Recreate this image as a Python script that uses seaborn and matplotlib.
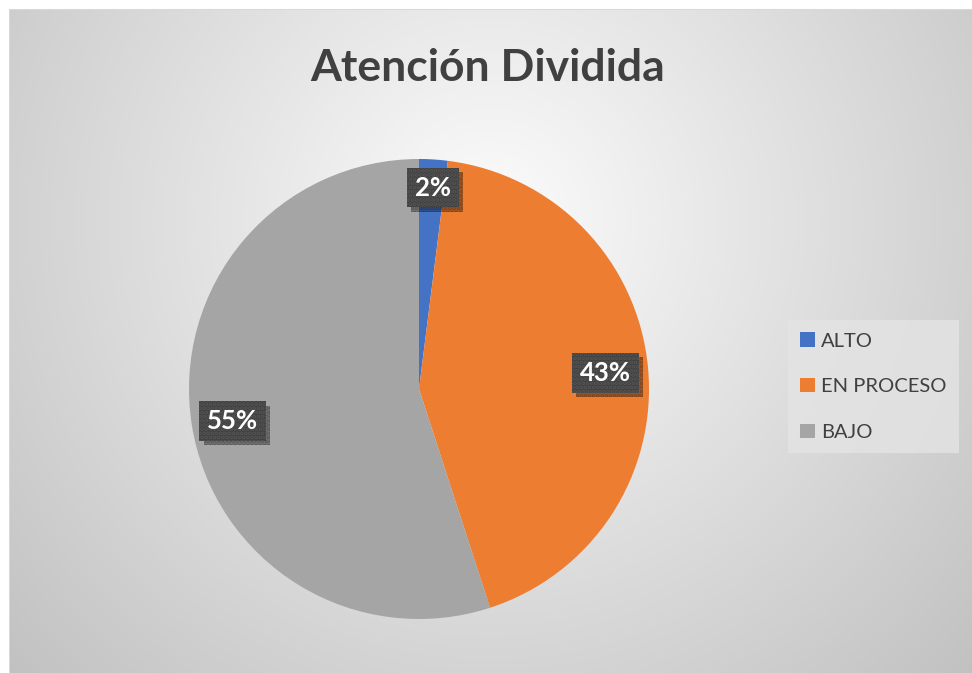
import numpy as np
import matplotlib
matplotlib.use("Agg")
import matplotlib.pyplot as plt
from matplotlib.patches import Shadow
import seaborn as sns

sns.set_theme(style="white")
plt.rcParams["font.family"] = ["Lato", "DejaVu Sans"]
plt.rcParams["hatch.linewidth"] = 2.0

# Data
categories = ["ALTO", "EN PROCESO", "BAJO"]
percentages = [2, 43, 55]
colors = ["#4472c4", "#ed7d31", "#a5a5a5"]
title = "Atención Dividida"

W, H = 972, 673
fig = plt.figure(figsize=(W / 100, H / 100), dpi=100, facecolor="white")

# Chart-area background: soft radial gradient, lighter near the title
yy, xx = np.mgrid[0:H, 0:W]
d = np.hypot(xx - 490, yy - 220)
shade = np.clip(252 - (252 - 196) * (d / 630.0), 190, 252) / 255.0
img = np.dstack([shade, shade, shade])
img[:9, :, :] = 1.0
img[:, :9, :] = 1.0
img[9, 9:, :] = 0.85
img[9:, 9, :] = 0.85
bg = fig.add_axes([0, 0, 1, 1], zorder=-10)
bg.imshow(img, extent=(0, W, H, 0), interpolation="bilinear", aspect="auto")
bg.set_axis_off()

# Title
fig.text(488 / W, 1 - 68 / H, title, ha="center", va="center",
         fontsize=32, fontweight="bold", color="#404040")

# Pie
cx, cy, r = 419, 389, 230
ax = fig.add_axes([(cx - r) / W, (H - cy - r) / H, 2 * r / W, 2 * r / H])
ax.set_facecolor("none")
wedges, _ = ax.pie(percentages, colors=colors, startangle=90, counterclock=False,
                   radius=1, wedgeprops=dict(linewidth=0))
ax.set_xlim(-1, 1)
ax.set_ylim(-1, 1)
ax.set_aspect("equal")
ax.set_axis_off()

# Data labels in dark textured boxes
label_pos = [(0.06, 0.875), (0.81, 0.07), (-0.81, -0.14)]
label_texts = []
for val, (lx, ly) in zip(percentages, label_pos):
    t = ax.text(lx, ly, f"{val}%", ha="center", va="center", fontsize=18.5,
                fontweight="bold", color="white", zorder=5,
                bbox=dict(boxstyle="square,pad=0.3", facecolor="#404040",
                          edgecolor="#555555", linewidth=0, hatch="...."))
    label_texts.append(t)

# Legend
leg = fig.legend(wedges, categories, loc="upper left",
                 bbox_to_anchor=(788 / W, 1 - 320 / H),
                 fontsize=14.5, frameon=True, facecolor="#e4e4e4",
                 edgecolor="none", framealpha=0.8, fancybox=False,
                 handlelength=0.7, handleheight=0.7, handletextpad=0.3,
                 labelspacing=1.42, borderpad=0.62, borderaxespad=0)
for t in leg.get_texts():
    t.set_color("#404040")

# Drop shadows behind the label boxes (boxes are placed on first draw)
fig.canvas.draw()
for t in label_texts:
    patch = t.get_bbox_patch()
    sh = Shadow(patch, 3, -3, facecolor="black", alpha=0.3)
    sh.set_zorder(4)
    ax.add_artist(sh)

fig.savefig("out.png", dpi=100, facecolor="white")
